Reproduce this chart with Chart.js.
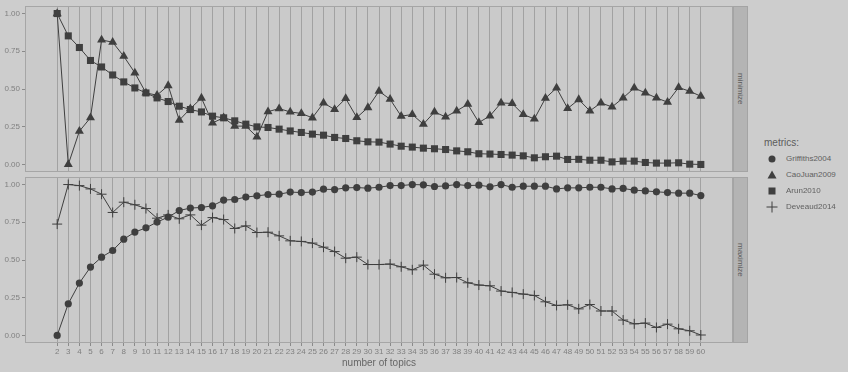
<!DOCTYPE html>
<html>
<head>
<meta charset="utf-8">
<script src="https://cdn.jsdelivr.net/npm/chart.js@4.4.1/dist/chart.umd.min.js"></script>
<style>
  body { margin: 0; width: 848px; height: 372px; overflow: hidden; background: #cdcdcd; font-family: "Liberation Sans", Arial, sans-serif; position: relative; }
  canvas { position: absolute; left: 0; }
  #topChart { top: 0; }
  #botChart { top: 170px; }
  .strip { position: absolute; left: 733px; width: 15px; box-sizing: border-box; background: #b4b4b4; border: 1px solid #a4a4a4;
           display: flex; align-items: center; justify-content: center; }
  .strip span { writing-mode: vertical-rl; font-size: 8px; color: #5c5c5c; }
  #legend { position: absolute; left: 764px; top: 134px; color: #5c5c5c; }
  #legend .title { font-size: 10px; height: 17px; line-height: 17px; }
  #legend .item { position: relative; height: 16px; line-height: 16px; font-size: 8px; color: #606060; }
  #legend svg { position: absolute; left: 2px; top: 2px; }
  #legend .item span { position: absolute; left: 22px; }
</style>
</head>
<body>
<canvas id="topChart" width="733" height="176"></canvas>
<canvas id="botChart" width="733" height="202"></canvas>
<div class="strip" style="top:6px;height:166px;"><span>minimize</span></div>
<div class="strip" style="top:177px;height:166px;"><span>maximize</span></div>
<div id="legend">
  <div class="title">metrics:</div>
  <div class="item"><svg width="14" height="12"><circle cx="6" cy="6" r="3.5" fill="#3f3f3f"/></svg><span>Griffiths2004</span></div>
  <div class="item"><svg width="14" height="12"><polygon points="6,1.5 10.5,9.5 1.5,9.5" fill="#3f3f3f"/></svg><span>CaoJuan2009</span></div>
  <div class="item"><svg width="14" height="12"><rect x="2.5" y="2.5" width="7" height="7" fill="#3f3f3f"/></svg><span>Arun2010</span></div>
  <div class="item"><svg width="14" height="12"><path d="M0.5 6 H11.5 M6 0.5 V11.5" stroke="#3f3f3f" stroke-width="1"/></svg><span>Deveaud2014</span></div>
</div>
<script>
// number of topics on the x axis
const topics = [2,3,4,5,6,7,8,9,10,11,12,13,14,15,16,17,18,19,20,21,22,23,24,25,26,27,28,29,30,31,
                32,33,34,35,36,37,38,39,40,41,42,43,44,45,46,47,48,49,50,51,52,53,54,55,56,57,58,59,60];

// minimize panel
const caoJuan2009 = [1.00,0.00,0.22,0.31,0.825,0.81,0.717,0.607,0.474,0.459,
                     0.523,0.293,0.37,0.44,0.275,0.31,0.254,0.254,0.183,0.35,
                     0.37,0.348,0.338,0.309,0.408,0.364,0.437,0.311,0.377,0.485,
                     0.432,0.32,0.331,0.267,0.348,0.315,0.355,0.399,0.278,0.322,
                     0.408,0.404,0.331,0.302,0.439,0.507,0.371,0.43,0.355,0.408,
                     0.381,0.441,0.507,0.474,0.441,0.413,0.51,0.485,0.452];
const arun2010 = [1.00,0.852,0.775,0.689,0.646,0.593,0.547,0.507,0.474,0.441,
                  0.417,0.386,0.364,0.348,0.32,0.309,0.289,0.267,0.249,0.245,
                  0.234,0.222,0.212,0.201,0.194,0.179,0.172,0.157,0.15,0.148,
                  0.135,0.121,0.115,0.108,0.104,0.099,0.09,0.084,0.071,0.069,
                  0.066,0.062,0.057,0.044,0.051,0.055,0.033,0.034,0.028,0.028,
                  0.017,0.022,0.022,0.013,0.009,0.009,0.011,0.002,0.00];

// maximize panel
const griffiths2004 = [0.00,0.21,0.347,0.453,0.519,0.563,0.638,0.685,0.713,0.751,
                       0.784,0.828,0.844,0.848,0.859,0.897,0.901,0.917,0.925,0.934,
                       0.936,0.95,0.947,0.95,0.969,0.967,0.978,0.98,0.976,0.982,
                       0.993,0.993,1.00,0.998,0.987,0.991,1.00,0.993,0.996,0.985,
                       1.00,0.982,0.989,0.989,0.989,0.971,0.978,0.978,0.982,0.982,
                       0.971,0.974,0.963,0.958,0.952,0.947,0.943,0.943,0.927];
const deveaud2014 = [0.738,1.00,0.993,0.971,0.936,0.815,0.883,0.866,0.841,0.777,
                     0.799,0.773,0.799,0.731,0.781,0.768,0.709,0.726,0.682,0.684,
                     0.66,0.627,0.623,0.612,0.585,0.556,0.512,0.519,0.47,0.47,
                     0.473,0.455,0.435,0.466,0.406,0.382,0.384,0.349,0.334,0.329,
                     0.294,0.285,0.274,0.265,0.223,0.199,0.203,0.176,0.205,0.162,
                     0.162,0.102,0.077,0.082,0.053,0.075,0.044,0.031,0.003];

const yTicks = [0, 0.25, 0.5, 0.75, 1];

const ink = '#3f3f3f';
const gridCol = '#a2a2a2';
const tickText = '#808080';

function series(label, values, style, radius) {
    return {
        label: label,
        data: topics.map((t, i) => ({ x: t, y: values[i] })),
        borderColor: ink,
        backgroundColor: ink,
        borderWidth: 1,
        pointStyle: style,
        pointRadius: radius,
        pointBorderWidth: style === 'cross' ? 1 : 0,
        pointBackgroundColor: ink,
        pointBorderColor: ink,
        tension: 0
    };
}

// panel background and border like ggplot
const panelPlugin = {
    id: 'panel',
    beforeDraw(chart) {
        const a = chart.chartArea, ctx = chart.ctx;
        ctx.save();
        ctx.fillStyle = '#cacaca';
        ctx.fillRect(a.left, a.top, a.right - a.left, a.bottom - a.top);
        ctx.restore();
    },
    afterDraw(chart) {
        const a = chart.chartArea, ctx = chart.ctx;
        ctx.save();
        ctx.strokeStyle = '#a6a6a6';
        ctx.lineWidth = 1;
        ctx.strokeRect(a.left + 0.5, a.top + 0.5, a.right - a.left - 1, a.bottom - a.top - 1);
        ctx.restore();
    }
};

function noPad(s) {
    s.paddingLeft = 0; s.paddingRight = 0; s.paddingTop = 0; s.paddingBottom = 0;
}

function makePanel(id, datasets, bottom, padTop) {
    return new Chart(document.getElementById(id), {
        type: 'line',
        data: { datasets: datasets },
        plugins: [panelPlugin],
        options: {
            responsive: false,
            animation: false,
            devicePixelRatio: 1,
            layout: { autoPadding: false, padding: { left: 0, right: 0, top: padTop, bottom: 0 } },
            plugins: { legend: { display: false }, tooltip: { enabled: false } },
            scales: {
                x: {
                    type: 'linear',
                    min: -0.9,
                    max: 62.9,
                    afterBuildTicks: s => { s.ticks = topics.map(v => ({ value: v })); },
                    afterFit: s => { s.height = bottom ? 29 : 4; noPad(s); },
                    border: { display: false },
                    grid: { color: gridCol, lineWidth: 1, drawTicks: bottom, tickLength: 3, tickColor: '#8a8a8a' },
                    ticks: {
                        display: bottom,
                        autoSkip: false,
                        maxRotation: 0,
                        padding: 1,
                        color: tickText,
                        font: { family: 'Liberation Sans', size: 8 }
                    },
                    title: {
                        display: bottom,
                        text: 'number of topics',
                        color: '#666',
                        padding: { top: 0, bottom: 3 },
                        font: { family: 'Liberation Sans', size: 10 }
                    }
                },
                y: {
                    min: -0.05,
                    max: 1.05,
                    afterBuildTicks: s => { s.ticks = yTicks.map(v => ({ value: v })); },
                    afterFit: s => { s.width = 25; noPad(s); },
                    border: { display: false },
                    grid: { drawOnChartArea: false, drawTicks: true, tickLength: 3, tickColor: '#8a8a8a' },
                    ticks: {
                        padding: 2,
                        color: tickText,
                        font: { family: 'Liberation Sans', size: 8 },
                        callback: v => v.toFixed(2)
                    }
                }
            }
        }
    });
}

makePanel('topChart', [
    series('CaoJuan2009', caoJuan2009, 'triangle', 5.2),
    series('Arun2010', arun2010, 'rect', 5)
], false, 6);

makePanel('botChart', [
    series('Griffiths2004', griffiths2004, 'circle', 3.6),
    series('Deveaud2014', deveaud2014, 'cross', 5)
], true, 7);
</script>
</body>
</html>
